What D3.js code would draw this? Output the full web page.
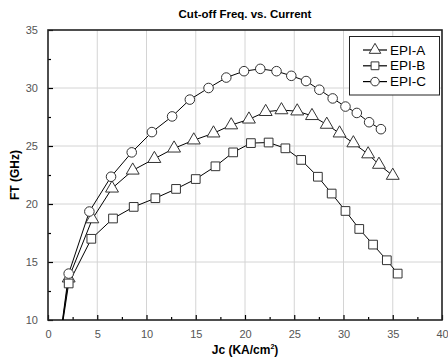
<!DOCTYPE html>
<html><head><meta charset="utf-8">
<script src="https://cdn.jsdelivr.net/npm/d3@7"></script>
<style>body{margin:0;background:#fff;} svg{display:block;}</style>
</head><body><svg id="c" width="448" height="361"></svg>
<script>
const title = "Cut-off Freq. vs. Current";
const xTicks = [0,5,10,15,20,25,30,35,40];
const yTicks = [10,15,20,25,30,35];
const seriesNames = ["EPI-A","EPI-B","EPI-C"];
const epiA_x = [1.0,2.1,4.5,6.5,8.6,10.8,12.8,14.8,16.8,18.6,20.4,22.1,23.7,25.3,26.8,28.3,29.6,31.0,32.5,33.6,35.0];
const epiA_y = [7.0,13.6,18.7,21.35,22.9,23.9,24.8,25.5,26.1,26.8,27.3,27.95,28.1,28.0,27.6,26.85,26.1,25.25,24.3,23.4,22.45];
const epiB_x = [1.0,2.1,4.4,6.6,8.7,10.9,13.0,15.0,17.0,18.8,20.6,22.4,24.1,25.7,27.4,28.8,30.2,31.6,33.0,34.4,35.5];
const epiB_y = [7.0,13.15,17.0,18.75,19.75,20.5,21.3,22.15,23.25,24.45,25.25,25.3,24.8,23.8,22.35,20.9,19.4,17.85,16.5,15.15,14.0];
const epiC_x = [1.0,2.1,4.2,6.4,8.5,10.55,12.6,14.4,16.3,18.1,19.9,21.55,23.2,24.7,26.2,27.55,28.9,30.2,31.35,32.6,33.8];
const epiC_y = [7.0,14.0,19.35,22.35,24.45,26.2,27.55,29.0,30.0,30.9,31.45,31.65,31.45,31.05,30.6,29.85,29.1,28.4,27.85,27.05,26.45];

const svg = d3.select("#c");
const m = {l:48, r:442, t:30, b:320};
const x = d3.scaleLinear().domain([0,40]).range([m.l, m.r]);
const y = d3.scaleLinear().domain([10,35]).range([m.b, m.t]);
const font = "Arial, 'Liberation Sans', sans-serif";

svg.append("defs").append("clipPath").attr("id","clip")
  .append("rect").attr("x",m.l).attr("y",m.t).attr("width",m.r-m.l).attr("height",m.b-m.t);

// grid
svg.append("g").selectAll("line").data(xTicks.filter(d=>d>0&&d<40)).join("line")
  .attr("x1",d=>x(d)).attr("x2",d=>x(d)).attr("y1",m.t).attr("y2",m.b)
  .attr("stroke","#d4d4d4").attr("stroke-width",1);
svg.append("g").selectAll("line").data(yTicks.filter(d=>d>10&&d<35)).join("line")
  .attr("y1",d=>y(d)).attr("y2",d=>y(d)).attr("x1",m.l).attr("x2",m.r)
  .attr("stroke","#d4d4d4").attr("stroke-width",1);

// axes (inward ticks)
const xMinor = d3.range(2.5,40,5);
const yMinor = d3.range(12.5,35,5);
const xa = svg.append("g").attr("transform",`translate(0,${m.b})`)
  .call(d3.axisBottom(x).tickValues(xTicks).tickSize(-5).tickPadding(10).tickFormat(d3.format("d")));
xa.select(".domain").remove();
const xm = svg.append("g").attr("transform",`translate(0,${m.b})`)
  .call(d3.axisBottom(x).tickValues(xMinor).tickSize(-3).tickFormat(""));
xm.select(".domain").remove();
const ya = svg.append("g").attr("transform",`translate(${m.l},0)`)
  .call(d3.axisLeft(y).tickValues(yTicks).tickSize(-5).tickPadding(10).tickFormat(d3.format("d")));
ya.select(".domain").remove();
const ym = svg.append("g").attr("transform",`translate(${m.l},0)`)
  .call(d3.axisLeft(y).tickValues(yMinor).tickSize(-3).tickFormat(""));
ym.select(".domain").remove();
svg.selectAll(".tick line").attr("stroke","#000").attr("stroke-width",1.2);
svg.selectAll(".tick text").attr("font-family",font).attr("font-size",11).attr("fill","#555");

// frame
svg.append("rect").attr("x",m.l).attr("y",m.t).attr("width",m.r-m.l).attr("height",m.b-m.t)
  .attr("fill","none").attr("stroke","#222").attr("stroke-width",1.6);

// series
const series = [
  {name:seriesNames[0], xs:epiA_x, ys:epiA_y, sym:d3.symbolTriangle, size:72},
  {name:seriesNames[1], xs:epiB_x, ys:epiB_y, sym:d3.symbolSquare, size:76},
  {name:seriesNames[2], xs:epiC_x, ys:epiC_y, sym:d3.symbolCircle, size:72},
];
const line = d3.line().x(d=>x(d[0])).y(d=>y(d[1]));
const g = svg.append("g").attr("clip-path","url(#clip)");
series.forEach(s=>{
  const pts = s.xs.map((v,i)=>[v,s.ys[i]]);
  g.append("path").datum(pts).attr("d",line).attr("fill","none").attr("stroke","#000").attr("stroke-width",1);
});
series.forEach(s=>{
  const pts = s.xs.map((v,i)=>[v,s.ys[i]]).filter(p=>p[1]>=10);
  g.selectAll(null).data(pts).join("path")
    .attr("d",d3.symbol().type(s.sym).size(s.size))
    .attr("transform",d=>`translate(${x(d[0])},${y(d[1])})`)
    .attr("fill","#fff").attr("stroke","#333").attr("stroke-width",1);
});

// legend
const lg = svg.append("g");
lg.append("rect").attr("x",349.5).attr("y",36.5).attr("width",90).attr("height",58.5)
  .attr("fill","#fff").attr("stroke","#222").attr("stroke-width",1);
series.forEach((s,i)=>{
  const yy = 50 + i*15.8;
  lg.append("line").attr("x1",363).attr("x2",387).attr("y1",yy).attr("y2",yy).attr("stroke","#000").attr("stroke-width",1.2);
  lg.append("path").attr("d",d3.symbol().type(s.sym).size(s.size*0.8)).attr("transform",`translate(375,${yy})`)
    .attr("fill","#fff").attr("stroke","#333");
  lg.append("text").attr("x",390).attr("y",yy+4.5).attr("font-family",font).attr("font-size",13.5).attr("fill","#000").text(s.name);
});

// titles
svg.append("text").attr("x",245).attr("y",18).attr("text-anchor","middle").attr("font-family",font)
  .attr("font-weight","bold").attr("font-size",11.5).text(title);
svg.append("text").attr("transform","translate(19,175) rotate(-90)").attr("text-anchor","middle").attr("font-family",font)
  .attr("font-weight","bold").attr("font-size",12).text("FT (GHz)");
const xl = svg.append("text").attr("x",245).attr("y",354).attr("text-anchor","middle").attr("font-family",font)
  .attr("font-weight","bold").attr("font-size",12);
xl.append("tspan").text("Jc (KA/cm");
xl.append("tspan").attr("font-size",7).attr("dy",-5).text("2");
xl.append("tspan").attr("dy",5).text(")");
</script></body></html>
